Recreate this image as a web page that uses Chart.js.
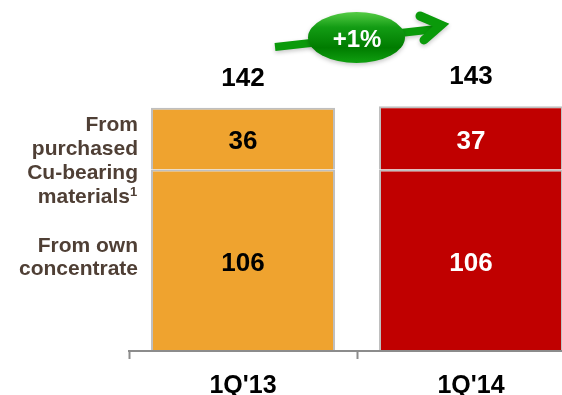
<!DOCTYPE html>
<html>
<head>
<meta charset="utf-8">
<style>
  html, body { margin: 0; padding: 0; background: #fff; overflow: hidden; width: 562px; height: 395px; }
  canvas { display: block; }
</style>
</head>
<body>
<canvas id="chart" width="640" height="395"></canvas>
<script src="https://cdn.jsdelivr.net/npm/chart.js@4"></script>
<script>
const categories = ["1Q'13", "1Q'14"];
const ownConcentrate = [106, 106];
const purchased = [36, 37];
const totals = [142, 143];
const change = '+1%';

const ORANGE = '#efa32f';
const RED = '#c00000';
const BORDER = '#bfbfbf';
const GREEN = '#0a9a0a';
const FONT = '"Liberation Sans", Arial, sans-serif';

// row captions left of the first bar: [text, right edge x, baseline y]
const sideLabels = [
  ['From', 138, 131],
  ['purchased', 138, 155],
  ['Cu-bearing', 138, 179],
  ['materials', 130, 203],
  ['From own', 138, 252],
  ['concentrate', 138, 275]
];

const labelsPlugin = {
  id: 'labels',
  afterDatasetsDraw(chart) {
    const c = chart.ctx;
    const x = chart.scales.x;
    const y = chart.scales.y;
    c.save();
    c.textAlign = 'center';
    c.textBaseline = 'middle';
    c.font = 'bold 26px ' + FONT;

    // values inside the segments
    chart.data.datasets.forEach((ds, d) => {
      chart.getDatasetMeta(d).data.forEach((bar, i) => {
        const mid = (bar.y + bar.base) / 2;
        c.fillStyle = i === 0 ? '#000' : '#fff';
        c.fillText(ds.data[i], x.getPixelForValue(i), mid + 3.5);
      });
    });

    // totals above the stacks
    c.fillStyle = '#000';
    totals.forEach((t, i) => {
      c.fillText(t, x.getPixelForValue(i), y.getPixelForValue(t) - 29);
    });

    // side captions
    c.textBaseline = 'alphabetic';
    c.fillStyle = '#4f3f35';
    c.textAlign = 'right';
    c.font = 'bold 21px ' + FONT;
    sideLabels.forEach(([t, px, py]) => c.fillText(t, px, py));
    c.font = 'bold 13px ' + FONT;
    c.textAlign = 'left';
    c.fillText('1', 130, 196);
    c.restore();
  }
};

const arrowPlugin = {
  id: 'arrow',
  afterDraw(chart) {
    const c = chart.ctx;
    c.save();
    // arrow behind the pill
    c.strokeStyle = GREEN;
    c.shadowColor = 'rgba(0,0,0,0.22)';
    c.shadowBlur = 4;
    c.shadowOffsetY = 2;
    c.lineWidth = 8;
    c.beginPath();
    c.moveTo(275, 47);
    c.lineTo(436, 29);
    c.stroke();
    c.lineWidth = 9;
    c.lineCap = 'round';
    c.lineJoin = 'miter';
    c.beginPath();
    c.moveTo(420, 16);
    c.lineTo(441, 25);
    c.lineTo(424, 40);
    c.stroke();

    // pill
    const grad = c.createLinearGradient(0, 12, 0, 63);
    grad.addColorStop(0, '#55cc45');
    grad.addColorStop(0.3, '#139c14');
    grad.addColorStop(0.7, '#007c00');
    grad.addColorStop(1, '#10a010');
    c.fillStyle = grad;
    c.beginPath();
    c.ellipse(356.5, 37.5, 48.5, 25.5, 0, 0, Math.PI * 2);
    c.fill();
    c.shadowColor = 'transparent';

    c.fillStyle = '#fff';
    c.font = 'bold 24px ' + FONT;
    c.textAlign = 'center';
    c.textBaseline = 'middle';
    c.fillText(change, 357, 40);
    c.restore();
  }
};

new Chart(document.getElementById('chart'), {
  type: 'bar',
  data: {
    labels: categories,
    datasets: [
      {
        label: 'From own concentrate',
        data: ownConcentrate,
        backgroundColor: [ORANGE, RED],
        borderColor: BORDER,
        borderWidth: { left: 2, right: 2, top: 2, bottom: 0 },
        borderSkipped: false
      },
      {
        label: 'From purchased Cu-bearing materials',
        data: purchased,
        backgroundColor: [ORANGE, RED],
        borderColor: BORDER,
        borderWidth: { left: 2, right: 2, top: 2, bottom: 0 },
        borderSkipped: false
      }
    ]
  },
  options: {
    responsive: false,
    animation: false,
    barPercentage: 0.807,
    categoryPercentage: 1,
    layout: { padding: { left: 129, right: 55, top: 0, bottom: 0 } },
    plugins: { legend: { display: false }, tooltip: { enabled: false } },
    scales: {
      x: {
        stacked: true,
        afterFit(scale) { scale.height = 44; },
        grid: {
          drawOnChartArea: false,
          drawTicks: true,
          tickLength: 8,
          tickColor: '#8c8c8c',
          tickWidth: 2,
          offset: true
        },
        border: { color: '#8c8c8c', width: 2, z: 1 },
        ticks: {
          color: '#000',
          padding: 12,
          maxRotation: 0,
          font: { family: FONT, size: 25, weight: 'bold' }
        }
      },
      y: {
        stacked: true,
        display: false,
        min: 0,
        max: 205
      }
    }
  },
  plugins: [labelsPlugin, arrowPlugin]
});
</script>
</body>
</html>
